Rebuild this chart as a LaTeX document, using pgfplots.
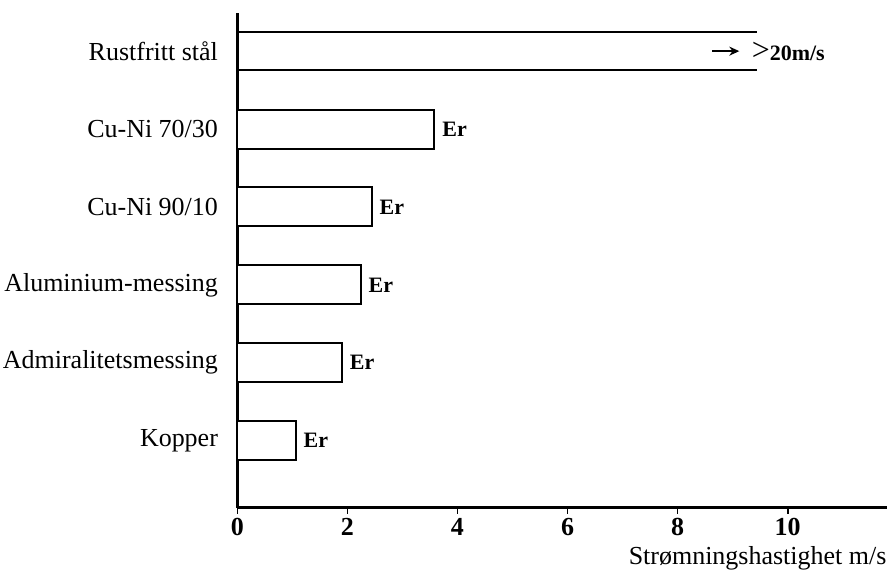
\documentclass[border=0pt]{standalone}
\usepackage{fontspec}
\setmainfont{Liberation Serif}
\usepackage{pgfplots}
\pgfplotsset{compat=1.18}
\usetikzlibrary{arrows.meta}
\begin{document}
\begin{tikzpicture}
\begin{axis}[
  name=ax,
  scale only axis,
  width=325pt, height=247.5pt,
  xmin=0, xmax=11.8,
  ymin=-0.86, ymax=5.49,
  axis x line=bottom, axis y line=left,
  axis line style={-, line width=1.2pt},
  xtick={0,2,...,10},
  xtick style={line width=0.8pt, black},
  tick align=outside, major tick length=3pt,
  ytick={0,...,5},
  yticklabels={Kopper,Admiralitetsmessing,Aluminium-messing,Cu-Ni 90/10,Cu-Ni 70/30,Rustfritt stål},
  ytick style={draw=none},
  yticklabel style={font=\fontsize{13}{15}\selectfont, inner xsep=0pt, xshift=-6.5pt},
  xticklabel style={font=\fontsize{13}{15}\selectfont\bfseries, yshift=1pt},
  /pgf/number format/assume math mode=true,
  xlabel={Strømningshastighet m/s},
  xlabel style={at={(rel axis cs:1,0)}, anchor=north east, inner sep=0pt, yshift=-19.5pt, font=\fontsize{13}{15}\selectfont},
  clip=false,
]
\addplot[xbar, bar width=19.5pt, draw=black, fill=white, line width=1pt,
  nodes near coords={Er},
  every node near coord/.append style={font=\fontsize{11}{12}\selectfont\bfseries, anchor=west, inner xsep=3.5pt}]
  coordinates {(1.06,0) (1.9,1) (2.24,2) (2.44,3) (3.58,4)};
\addplot[line width=1pt, mark=none] coordinates {(0,5.245) (9.45,5.245)};
\addplot[line width=1pt, mark=none] coordinates {(0,4.755) (9.45,4.755)};
\addplot[line width=1.2pt, mark=none, -{Stealth[length=5pt,width=4.5pt]}] coordinates {(8.63,5) (9.12,5)};
\node[anchor=west, inner sep=0pt] at (axis cs:9.34,5) {{\fontsize{16}{16}\selectfont >}{\fontsize{11}{12}\selectfont\bfseries 20m/s}};
\end{axis}
\path ([xshift=-118.75pt, yshift=6.5pt]ax.north west) rectangle ([yshift=-30pt]ax.south east);
\end{tikzpicture}
\end{document}
